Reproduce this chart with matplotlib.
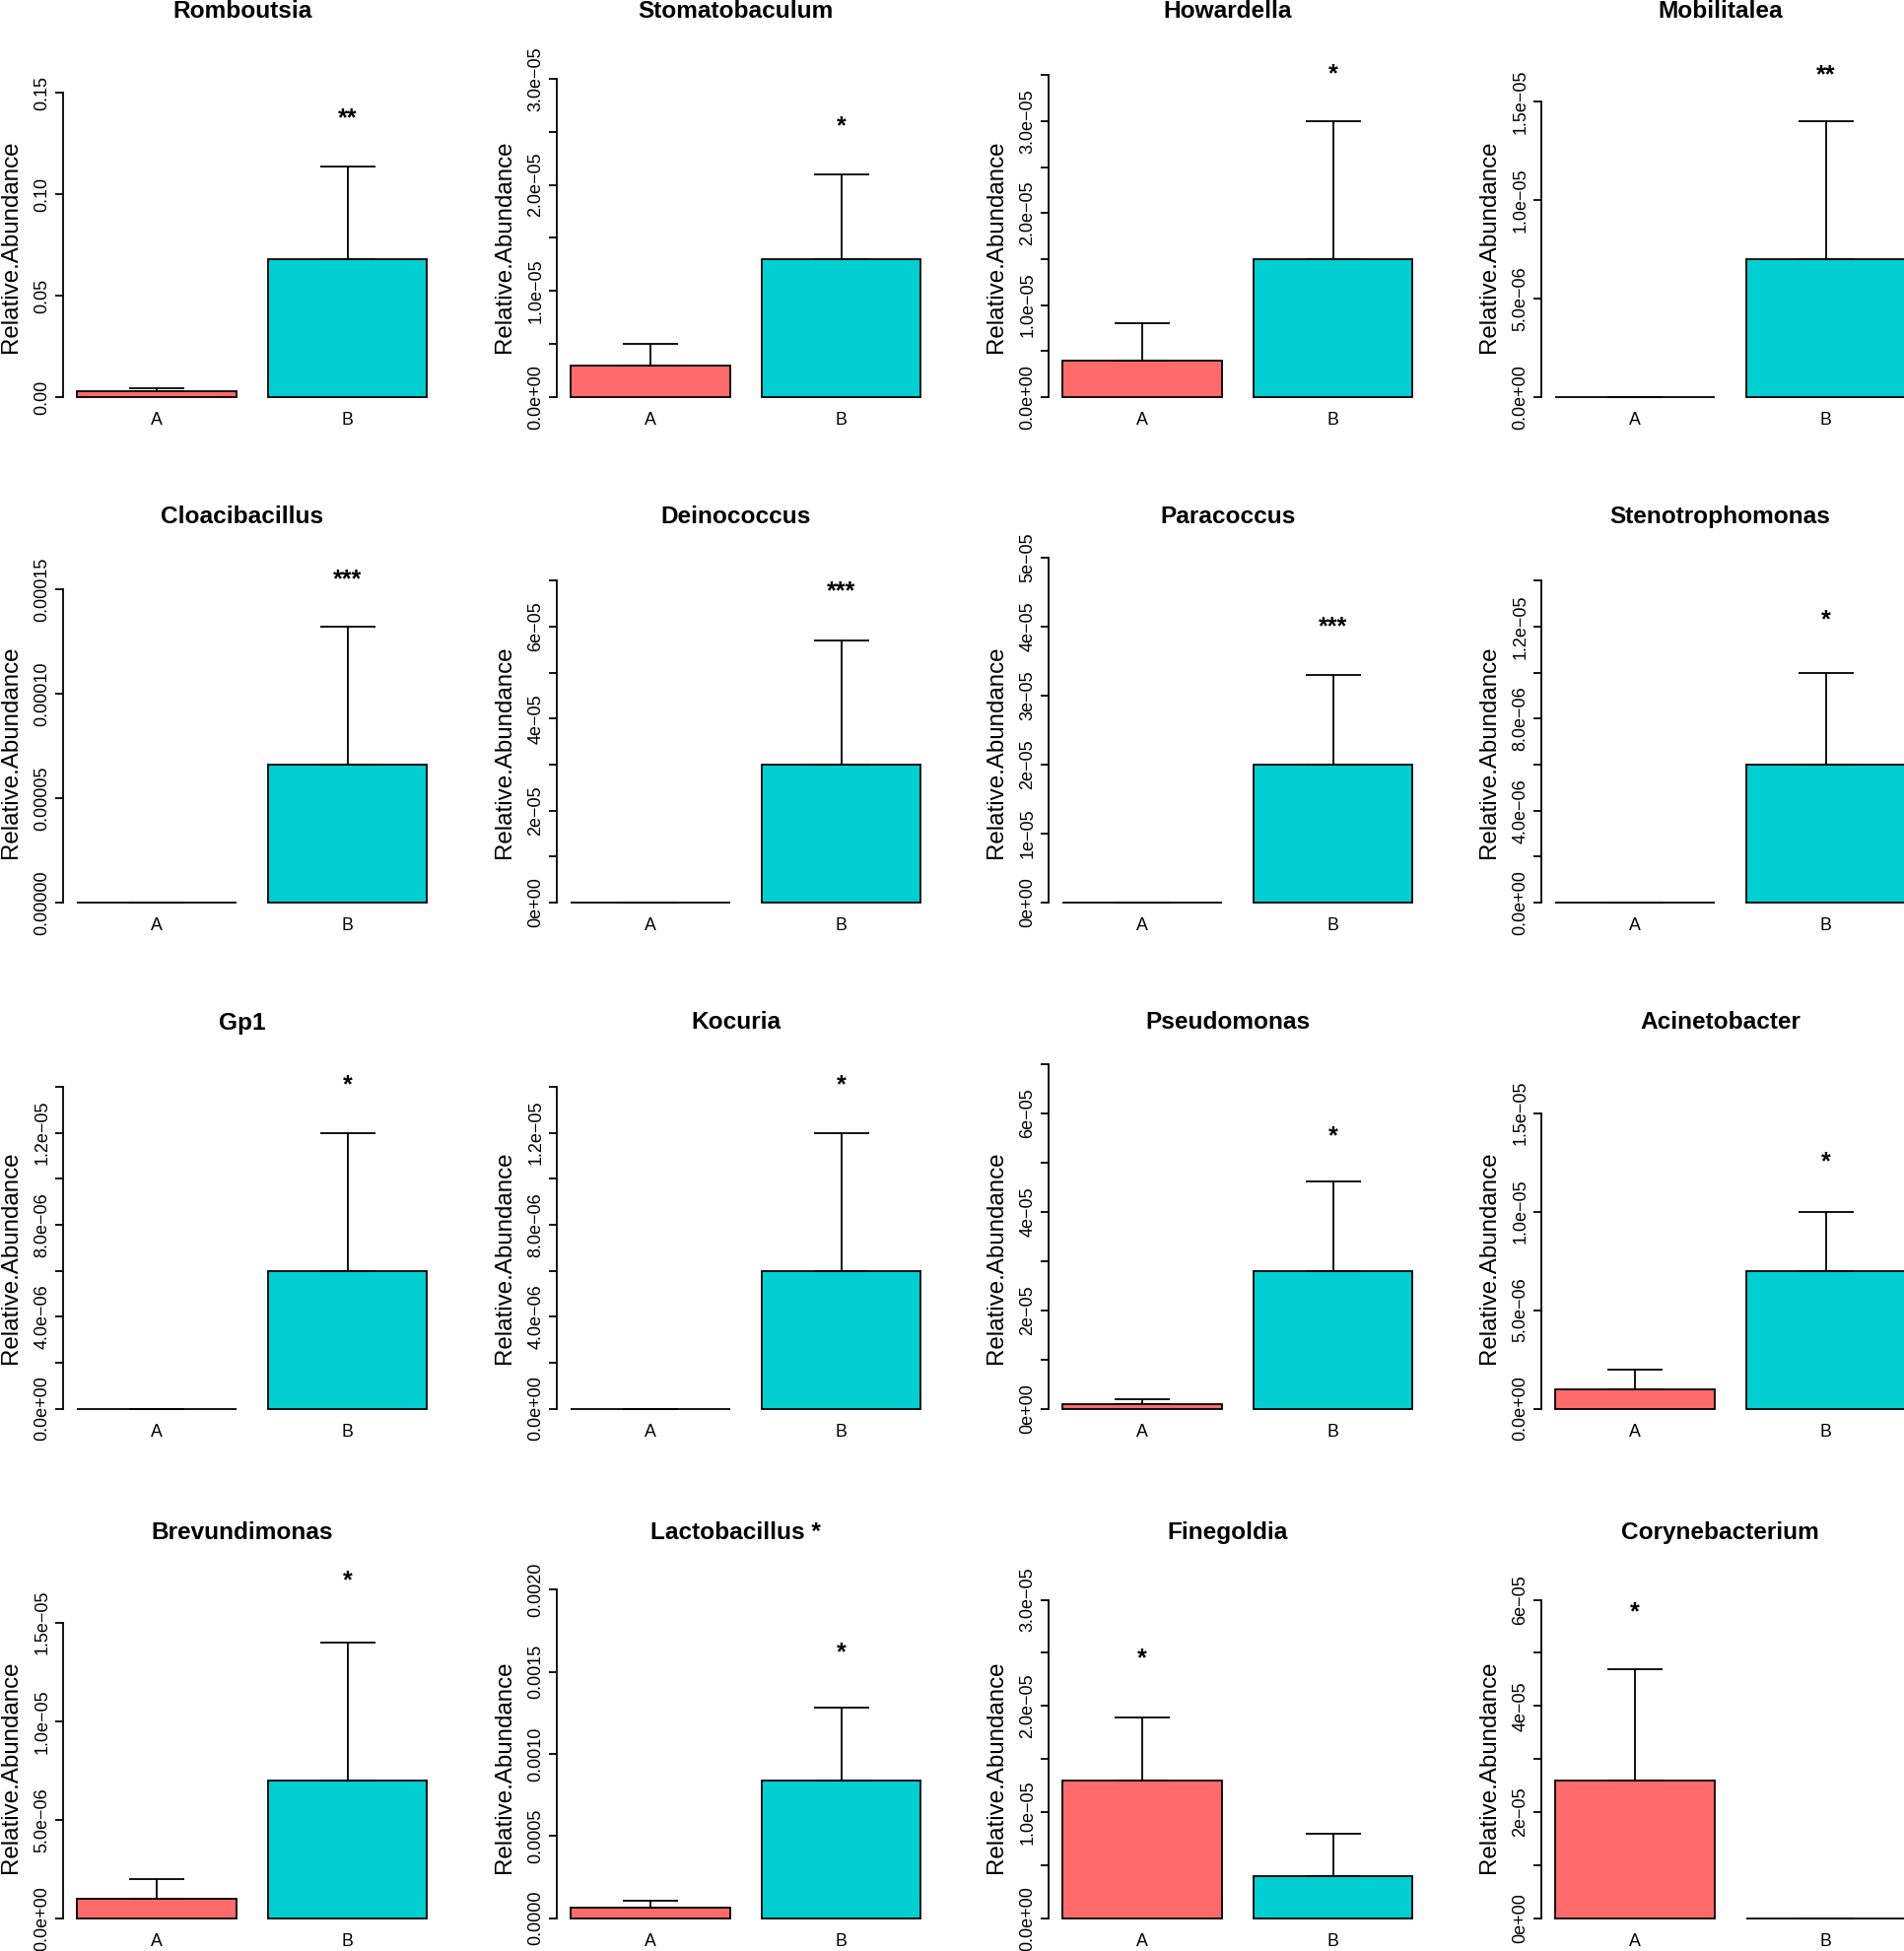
import matplotlib
matplotlib.use("Agg")
import matplotlib.pyplot as plt
import numpy as np

plt.rcParams['font.family'] = ['Liberation Sans', 'DejaVu Sans']

# ---------------- data ----------------
genera = ["Romboutsia", "Stomatobaculum", "Howardella", "Mobilitalea",
          "Cloacibacillus", "Deinococcus", "Paracoccus", "Stenotrophomonas",
          "Gp1", "Kocuria", "Pseudomonas", "Acinetobacter",
          "Brevundimonas", "Lactobacillus *", "Finegoldia", "Corynebacterium"]
groups = ["A", "B"]

mean_A = [0.0030, 3.0e-6, 4.0e-6, 0.0, 0.0, 0.0, 0.0, 0.0,
          0.0, 0.0, 1.0e-6, 1.0e-6, 1.0e-6, 6.6e-5, 1.3e-5, 2.6e-5]
mean_B = [0.068, 1.3e-5, 1.5e-5, 7.0e-6, 6.6e-5, 3.0e-5, 2.0e-5, 6.0e-6,
          6.0e-6, 6.0e-6, 2.8e-5, 7.0e-6, 7.0e-6, 8.4e-4, 4.0e-6, 0.0]
sd_A = [0.0014, 2.0e-6, 4.0e-6, 0.0, 0.0, 0.0, 0.0, 0.0,
        0.0, 0.0, 1.0e-6, 1.0e-6, 1.0e-6, 4.2e-5, 5.9e-6, 2.1e-5]
sd_B = [0.0456, 8.0e-6, 1.5e-5, 7.0e-6, 6.6e-5, 2.71e-5, 1.3e-5, 4.0e-6,
        6.0e-6, 6.0e-6, 1.81e-5, 3.0e-6, 7.0e-6, 4.44e-4, 4.0e-6, 0.0]

signif = ["**", "*", "*", "**", "***", "***", "***", "*",
          "*", "*", "*", "*", "*", "*", "*", "*"]
signif_group = [1, 1, 1, 1, 1, 1, 1, 1, 1, 1, 1, 1, 1, 1, 0, 0]
signif_y = [0.139, 2.58e-5, 3.55e-5, 1.65e-5, 1.56e-4, 6.83e-5, 4.05e-5, 1.243e-5,
            1.42e-5, 1.42e-5, 5.6e-5, 1.27e-5, 1.73e-5, 1.64e-3, 2.48e-5, 5.82e-5]

M = "\u2212"
tick_step = [0.05, 5e-6, 5e-6, 5e-6, 5e-5, 1e-5, 1e-5, 2e-6,
             2e-6, 2e-6, 1e-5, 5e-6, 5e-6, 5e-4, 5e-6, 1e-5]
tick_labels = [
    ["0.00", "0.05", "0.10", "0.15"],
    ["0.0e+00", "", "1.0e" + M + "05", "", "2.0e" + M + "05", "", "3.0e" + M + "05"],
    ["0.0e+00", "", "1.0e" + M + "05", "", "2.0e" + M + "05", "", "3.0e" + M + "05", ""],
    ["0.0e+00", "5.0e" + M + "06", "1.0e" + M + "05", "1.5e" + M + "05"],
    ["0.00000", "0.00005", "0.00010", "0.00015"],
    ["0e+00", "", "2e" + M + "05", "", "4e" + M + "05", "", "6e" + M + "05", ""],
    ["0e+00", "1e" + M + "05", "2e" + M + "05", "3e" + M + "05", "4e" + M + "05", "5e" + M + "05"],
    ["0.0e+00", "", "4.0e" + M + "06", "", "8.0e" + M + "06", "", "1.2e" + M + "05", ""],
    ["0.0e+00", "", "4.0e" + M + "06", "", "8.0e" + M + "06", "", "1.2e" + M + "05", ""],
    ["0.0e+00", "", "4.0e" + M + "06", "", "8.0e" + M + "06", "", "1.2e" + M + "05", ""],
    ["0e+00", "", "2e" + M + "05", "", "4e" + M + "05", "", "6e" + M + "05", ""],
    ["0.0e+00", "5.0e" + M + "06", "1.0e" + M + "05", "1.5e" + M + "05"],
    ["0.0e+00", "5.0e" + M + "06", "1.0e" + M + "05", "1.5e" + M + "05"],
    ["0.0000", "0.0005", "0.0010", "0.0015", "0.0020"],
    ["0.0e+00", "", "1.0e" + M + "05", "", "2.0e" + M + "05", "", "3.0e" + M + "05"],
    ["0e+00", "", "2e" + M + "05", "", "4e" + M + "05", "", "6e" + M + "05"],
]

colors = ["#FF6A6A", "#00CED1"]

# ---------------- layout (pixels) ----------------
W, H = 1933, 1980
col_left = [63.8, 564.8, 1063.8, 1563.8]
row_base = [403.0, 916.0, 1429.5, 1946.7]
unit_px = 161.5
xlo, xhi = 0.112, 2.488
plot_w = (xhi - xlo) * unit_px
bar_px = 140.0          # pixel height of the tallest mean bar
plot_h = bar_px * 2.5 * 1.08
below = bar_px * 2.5 * 0.04

fig = plt.figure(figsize=(W / 100, H / 100), dpi=100)
xpos = [0.7, 1.9]
lw = 1.3

for i, name in enumerate(genera):
    r, c = divmod(i, 4)
    left = col_left[c]
    bottom_px = row_base[r] + below
    ax = fig.add_axes([left / W, 1 - bottom_px / H, plot_w / W, plot_h / H])
    Y = 2.5 * max(mean_A[i], mean_B[i])
    ax.set_xlim(xlo, xhi)
    ax.set_ylim(-0.04 * Y, 1.04 * Y)

    means = [mean_A[i], mean_B[i]]
    sds = [sd_A[i], sd_B[i]]
    ax.bar(xpos, means, width=1.0, color=colors, edgecolor="black",
           linewidth=lw, zorder=2)
    ax.errorbar(xpos, means, yerr=[[0, 0], sds], fmt="none", ecolor="black",
                elinewidth=lw, capsize=20.5, capthick=lw, zorder=3)

    ax.annotate(signif[i], (xpos[signif_group[i]], signif_y[i]),
                xytext=(0, -2.5), textcoords="offset points",
                ha="center", va="center", fontsize=18, fontweight="bold",
                annotation_clip=False)

    for s in ["top", "right", "bottom"]:
        ax.spines[s].set_visible(False)
    labs = tick_labels[i]
    ticks = [tick_step[i] * k for k in range(len(labs))]
    ax.spines["left"].set_bounds(0, ticks[-1])
    ax.spines["left"].set_linewidth(lw)
    ax.set_yticks(ticks)
    ax.set_yticklabels(labs)
    ax.tick_params(axis="y", length=5.8, width=lw, pad=3.3, labelsize=13,
                   direction="out")
    for lab in ax.get_yticklabels():
        lab.set_rotation(90)
        lab.set_va("center")
        lab.set_ha("right")

    ax.set_xticks(xpos)
    ax.set_xticklabels(groups)
    ax.tick_params(axis="x", length=0, pad=1.0, labelsize=12.8)

    ax.set_ylabel("Relative.Abundance", fontsize=17.4)
    ax.yaxis.set_label_coords(-41.4 / plot_w, (below + 153) / plot_h)

    ax.set_title(name, fontsize=17.6, fontweight="bold", pad=0,
                 x=0.5 - 10 / plot_w, y=(below + 385) / plot_h, va="baseline")

fig.savefig("out.png", dpi=100)
